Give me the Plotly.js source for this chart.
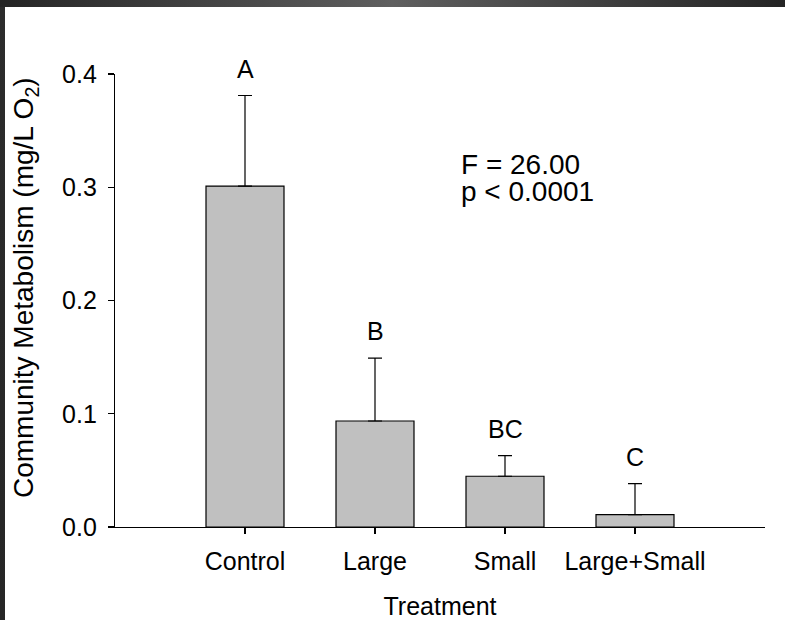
<!DOCTYPE html>
<html>
<head>
<meta charset="utf-8">
<script src="https://cdn.plot.ly/plotly-3.0.1.min.js"></script>
<style>
  html, body { margin: 0; padding: 0; width: 785px; height: 620px; overflow: hidden;
    background: linear-gradient(to right, #242424 0%, #5f5f5f 50%, #242424 100%); }
  #frame { position: absolute; left: 0; top: 7px; width: 5px; height: 613px;
    background: linear-gradient(to bottom, #2c2c2c, #262626); }
  #chart { position: absolute; left: 5px; top: 7px; width: 780px; height: 613px; background: #fff; }
</style>
</head>
<body>
<div id="frame"></div>
<div id="chart"></div>
<script>
// ---- data ----
const categories = ["Control", "Large", "Small", "Large+Small"];
const means = [0.301, 0.0936, 0.0448, 0.0109];
const errors = [0.080, 0.0556, 0.0182, 0.0274];
const groupLetters = ["A", "B", "BC", "C"];
const yTickValues = [0.0, 0.1, 0.2, 0.3, 0.4];
const yTickLabels = ["0.0", "0.1", "0.2", "0.3", "0.4"];
const statsLines = ["F = 26.00", "p &lt; 0.0001"];
const xTitle = "Treatment";
const yTitle = "Community Metabolism (mg/L O<sub>2</sub>)";

const FONT = "Liberation Sans, Arial, Helvetica, sans-serif";

const trace = {
  type: "bar",
  x: categories,
  y: means,
  width: 0.6,
  marker: { color: "#c0c0c0", line: { color: "#000000", width: 1.2 } },
  error_y: { type: "data", array: errors, symmetric: false, arrayminus: categories.map(() => 0),
             visible: true, color: "#000000", thickness: 1.2, width: 7 },
  hoverinfo: "skip"
};

const annotations = categories.map((c, i) => ({
  x: c, y: means[i] + errors[i], xref: "x", yref: "y",
  text: groupLetters[i], showarrow: false,
  xanchor: "center", yanchor: "bottom", yshift: 11,
  font: { family: FONT, size: 25, color: "#000" }
}));

statsLines.forEach((t, i) => {
  annotations.push({
    x: 0.531, y: 0.800 - i * 0.0596, xref: "paper", yref: "paper",
    text: t, showarrow: false, xanchor: "left", yanchor: "middle", borderpad: 0,
    font: { family: FONT, size: 28, color: "#000" }
  });
});

// y-axis title (placed as rotated text to match the reference's offset)
annotations.push({
  x: -0.1377, y: 0.5287, xref: "paper", yref: "paper",
  text: yTitle, textangle: -90, showarrow: false,
  xanchor: "center", yanchor: "middle",
  font: { family: FONT, size: 28, color: "#000" }
});

const layout = {
  width: 780, height: 613,
  margin: { l: 110, r: 20, t: 67, b: 93, pad: 0 },
  paper_bgcolor: "#ffffff", plot_bgcolor: "#ffffff",
  showlegend: false,
  font: { family: FONT, size: 25, color: "#000" },
  xaxis: {
    type: "category", range: [-1, 4], fixedrange: true,
    showline: true, linecolor: "#000", linewidth: 1.2,
    ticks: "outside", ticklen: 6, tickcolor: "#000", tickwidth: 1.2,
    showgrid: false, zeroline: false,
    tickfont: { family: FONT, size: 25, color: "#000" },
    ticklabelstandoff: 6,
    title: { text: xTitle, font: { family: FONT, size: 25, color: "#000" }, standoff: 24 }
  },
  yaxis: {
    range: [0, 0.4], fixedrange: true,
    tickvals: yTickValues, ticktext: yTickLabels,
    showline: true, linecolor: "#000", linewidth: 1.2,
    ticks: "outside", ticklen: 6, tickcolor: "#000", tickwidth: 1.2,
    showgrid: false, zeroline: false,
    tickfont: { family: FONT, size: 25, color: "#000" },
    ticklabelstandoff: 6
  },
  annotations: annotations
};

Plotly.newPlot("chart", [trace], layout, { staticPlot: true, displayModeBar: false });
</script>
</body>
</html>
